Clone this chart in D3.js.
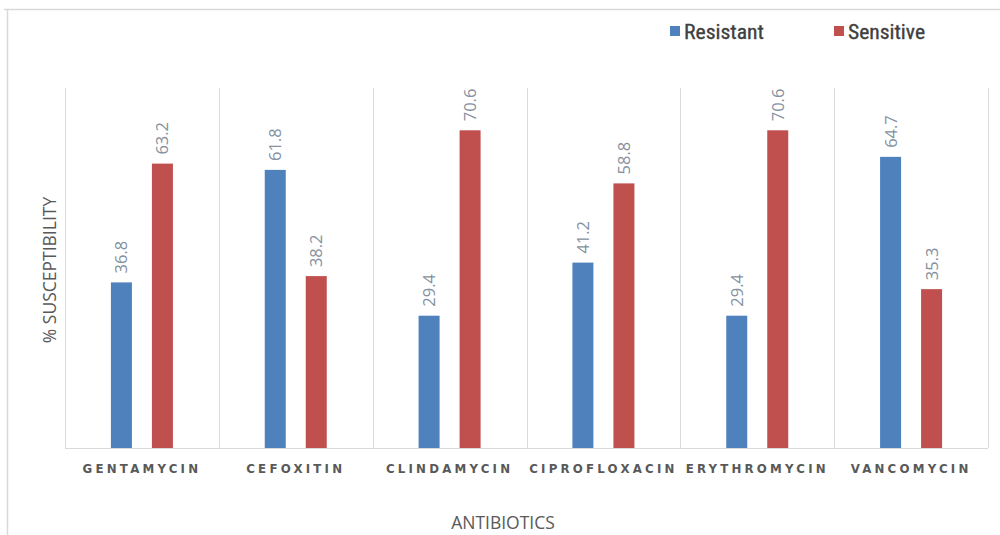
<!DOCTYPE html>
<html><head><meta charset="utf-8">
<script src="https://cdn.jsdelivr.net/npm/d3@7"></script>
<style>body{margin:0;background:#fff;}svg{display:block;}</style>
</head><body>
<script>
const categories = ["GENTAMYCIN","CEFOXITIN","CLINDAMYCIN","CIPROFLOXACIN","ERYTHROMYCIN","VANCOMYCIN"];
const resistant = [36.8, 61.8, 29.4, 41.2, 29.4, 64.7];
const sensitive = [63.2, 38.2, 70.6, 58.8, 70.6, 35.3];
const seriesNames = ["Resistant","Sensitive"];
const colors = ["#4f81bd","#c0504d"];

(function(){
const W=1000,H=535;
const svg=d3.select("body").append("svg").attr("width",W).attr("height",H);
svg.append("line").attr("x1",4).attr("x2",W).attr("y1",9.5).attr("y2",9.5).attr("stroke","#d9d9d9").attr("stroke-width",1.5);
svg.append("line").attr("x1",7.5).attr("x2",7.5).attr("y1",9.5).attr("y2",H).attr("stroke","#d9d9d9").attr("stroke-width",1.5);

const pl=65,pr=988,pt=88,pb=448;
const x=d3.scaleBand().domain(categories).range([pl,pr]).padding(0);
const y=d3.scaleLinear().domain([0,80]).range([pb,pt]);

const g=svg.append("g");
const bounds=categories.map(c=>x(c)).concat([pr]);
g.selectAll("line.grid").data(bounds).join("line")
 .attr("x1",d=>Math.round(d)+0.5).attr("x2",d=>Math.round(d)+0.5)
 .attr("y1",pt).attr("y2",pb).attr("stroke","#d9d9d9").attr("stroke-width",1);
g.append("line").attr("x1",pl).attr("x2",pr).attr("y1",pb+0.5).attr("y2",pb+0.5).attr("stroke","#d9d9d9");

const data=[];
categories.forEach((c,i)=>{data.push({c,s:"Resistant",v:resistant[i],k:0});data.push({c,s:"Sensitive",v:sensitive[i],k:1});});
const bw=21;
const cx=d=>x(d.c)+x.bandwidth()/2+(d.k===0?-20.5:20.5);
g.selectAll("rect.bar").data(data).join("rect")
 .attr("x",d=>cx(d)-bw/2).attr("width",bw)
 .attr("y",d=>y(d.v)).attr("height",d=>pb-y(d.v))
 .attr("fill",d=>colors[d.k]);
g.selectAll("text.lbl").data(data).join("text")
 .attr("transform",d=>`translate(${cx(d)+6},${y(d.v)-9}) rotate(-90)`)
 .attr("text-anchor","start").attr("font-family","'Open Sans',sans-serif").attr("font-size",16.5)
 .attr("fill","#8591a0").text(d=>d.v.toFixed(1));

const xAxis=d3.axisBottom(x).tickSize(0).tickPadding(0);
const ax=svg.append("g").attr("transform",`translate(0,${pb})`).call(xAxis);
ax.select(".domain").remove();
ax.selectAll("text").attr("y",25).attr("dy",0).attr("font-family","'DejaVu Sans',sans-serif").attr("font-weight","bold")
 .attr("font-size",11.8).attr("letter-spacing","3.2px").attr("fill","#595959");

svg.append("text").attr("x",503).attr("y",529).attr("text-anchor","middle").attr("font-family","'Open Sans',sans-serif")
 .attr("font-size",17.5).attr("fill","#595959").text("ANTIBIOTICS");
svg.append("text").attr("transform","translate(56,270) rotate(-90)").attr("text-anchor","middle").attr("font-family","'Open Sans',sans-serif")
 .attr("font-size",17.5).attr("fill","#595959").text("% SUSCEPTIBILITY");

const leg=svg.append("g");
const lx=[670,834];
seriesNames.forEach((s,i)=>{
  leg.append("rect").attr("x",lx[i]).attr("y",26).attr("width",10).attr("height",10).attr("fill",colors[i]);
  leg.append("text").attr("x",lx[i]+14).attr("y",38.5).attr("font-family","'Liberation Sans Narrow','Roboto Condensed',sans-serif")
   .attr("font-size",21).attr("fill","#404040").attr("stroke","#404040").attr("stroke-width",0.35)
   .attr("textLength",i===0?80:77).attr("lengthAdjust","spacingAndGlyphs").text(s);
});
})();
</script>
</body></html>
